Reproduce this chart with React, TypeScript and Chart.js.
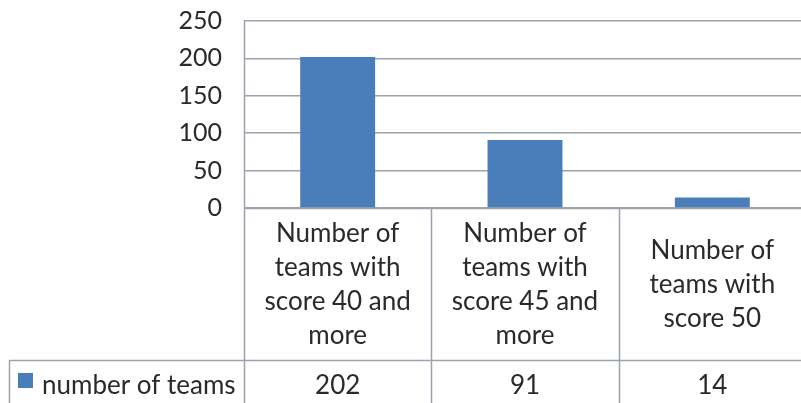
import React, { useEffect, useRef } from "react";
import { Chart, registerables } from "chart.js";

Chart.register(...registerables);

const categories: string[][] = [
  ["Number of", "teams with", "score 40 and", "more"],
  ["Number of", "teams with", "score 45 and", "more"],
  ["Number of", "teams with", "score 50"],
];
const seriesName = "number of teams";
const values: number[] = [202, 91, 14];
const yTicks: number[] = [0, 50, 100, 150, 200, 250];

const BAR = "#4a7ebb";
const LINE = "#9aa3ad";
const TEXT = "#2a2a2a";
const FONT = "Lato, 'Open Sans', sans-serif";

const tablePlugin = {
  id: "dataTable",
  afterDraw(chart: any) {
    const { ctx, chartArea, scales } = chart;
    const x = scales.x;
    const top = chartArea.bottom;
    const rowY = 360;
    const bottom = 420;
    const left = 9;
    const n = values.length;
    const half = (x.getPixelForValue(1) - x.getPixelForValue(0)) / 2;
    ctx.save();
    ctx.strokeStyle = LINE;
    ctx.lineWidth = 1.5;
    for (let i = 0; i <= n; i++) {
      const px = i < n ? x.getPixelForValue(i) - half : x.getPixelForValue(n - 1) + half;
      ctx.beginPath();
      ctx.moveTo(Math.round(px) + 0.5, i === 0 ? chartArea.top : top);
      ctx.lineTo(Math.round(px) + 0.5, bottom);
      ctx.stroke();
    }
    ctx.beginPath();
    ctx.moveTo(x.getPixelForValue(0) - half, top + 0.5);
    ctx.lineTo(chart.width, top + 0.5);
    ctx.stroke();
    ctx.beginPath();
    ctx.moveTo(left, rowY + 0.5);
    ctx.lineTo(chart.width, rowY + 0.5);
    ctx.stroke();
    ctx.beginPath();
    ctx.moveTo(left + 0.5, rowY);
    ctx.lineTo(left + 0.5, bottom);
    ctx.stroke();

    ctx.fillStyle = TEXT;
    ctx.font = `26px ${FONT}`;
    ctx.textAlign = "center";
    ctx.textBaseline = "middle";
    const lh = 34;
    const midY = (top + rowY) / 2 + 1;
    categories.forEach((lines, i) => {
      const cx = x.getPixelForValue(i);
      const start = midY - ((lines.length - 1) * lh) / 2;
      lines.forEach((t, j) => ctx.fillText(t, cx, start + j * lh));
    });
    const valY = 386;
    values.forEach((v, i) => {
      ctx.fillText(String(v), x.getPixelForValue(i), valY);
    });
    ctx.fillStyle = BAR;
    ctx.fillRect(18, 373, 15, 15);
    ctx.fillStyle = TEXT;
    ctx.textAlign = "left";
    ctx.fillText(seriesName, 42, valY);
    ctx.restore();
  },
};

export default function App() {
  const ref = useRef<HTMLCanvasElement>(null);
  useEffect(() => {
    document.body.style.margin = "0";
    const chart = new Chart(ref.current!, {
      type: "bar",
      data: {
        labels: categories.map((c) => c.join(" ")),
        datasets: [
          {
            label: seriesName,
            data: values,
            backgroundColor: BAR,
            borderWidth: 0,
            categoryPercentage: 1,
            barPercentage: 0.4,
          },
        ],
      },
      options: {
        responsive: false,
        animation: false,
        layout: { padding: { top: 21, right: 0, left: 0, bottom: 0 } },
        plugins: { legend: { display: false }, tooltip: { enabled: false } },
        scales: {
          x: {
            grid: { display: false },
            border: { display: false },
            ticks: { display: false },
            afterFit: (s: any) => {
              s.height = 403 - 208;
            },
          },
          y: {
            min: 0,
            max: 250,
            afterBuildTicks: (s: any) => {
              s.ticks = yTicks.map((v) => ({ value: v }));
            },
            grid: { color: LINE, lineWidth: 1.5, drawTicks: false },
            border: { display: false },
            ticks: {
              color: TEXT,
              font: { family: FONT, size: 25 },
              padding: 22,
            },
            afterFit: (s: any) => {
              s.width = 244;
              s.paddingTop = 0;
              s.paddingBottom = 0;
            },
          },
        },
      },
      plugins: [tablePlugin],
    });
    return () => chart.destroy();
  }, []);
  return (
    <div style={{ position: "absolute", left: 0, top: 0, width: 801, height: 403, overflow: "hidden", background: "#fff" }}>
      <canvas ref={ref} width={806} height={403} style={{ width: 806, height: 403 }} />
    </div>
  );
}
